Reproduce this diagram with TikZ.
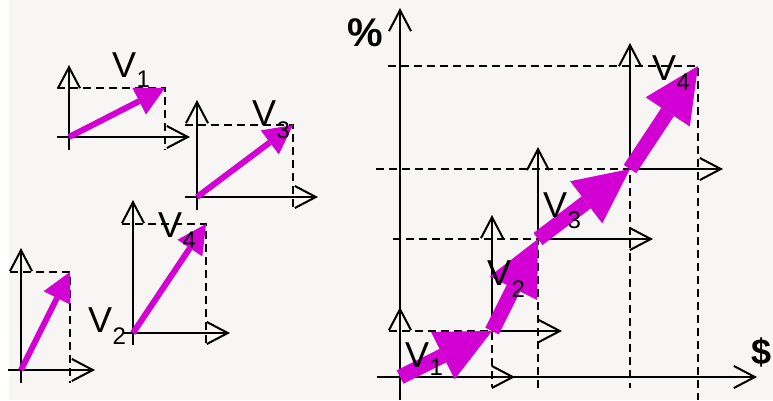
\documentclass[tikz,border=0pt]{standalone}
\usepackage{fontspec}
\setmainfont{Liberation Sans}
\usetikzlibrary{arrows.meta}
\definecolor{mag}{RGB}{210,0,210}
\definecolor{bg}{RGB}{247,246,245}
\begin{document}
\begin{tikzpicture}[x=1pt,y=-1pt,
  axis/.style={line width=2pt,-{Straight Barb[length=21pt,width=22pt]}},
  dline/.style={line width=2pt,dash pattern=on 8pt off 5pt},
  vec/.style={draw=mag,line width=6pt,-{Triangle[length=29pt,width=30pt,line width=0pt]},mag},
  bigvec/.style={draw=mag,line width=15pt,-{Triangle[length=55pt,width=53pt,line width=0pt]},mag},
  vlab/.style={font=\fontsize{36}{40}\selectfont,inner sep=0pt,anchor=base west},
  sublab/.style={font=\fontsize{24}{28}\selectfont,inner sep=0pt,anchor=base west},
  biglab/.style={font=\bfseries\fontsize{40}{44}\selectfont,inner sep=0pt}]
\useasboundingbox (0,0) rectangle (773,400);
\fill[white] (0,0) rectangle (773,400);
\fill[bg] (8.5,0) rectangle (773,400);
% ---------- left box A (V1)
\coordinate (a0) at (69,137);
\coordinate (aT) at (165,88);
\draw[axis] (69,150) -- (69,65);
\draw[axis] (57,137) -- (190,137);
\draw[dline] (57,88) -- (aT) -- (165,150);
\draw[vec] (a0) -- (aT);
% ---------- left box B (V3)
\coordinate (b0) at (197,197);
\coordinate (bT) at (293,125);
\draw[axis] (197,210) -- (197,100);
\draw[axis] (185,197) -- (318,197);
\draw[dline] (185,125) -- (bT) -- (293,210);
\draw[vec] (b0) -- (bT);
% ---------- left box C (V4)
\coordinate (c0) at (133,333);
\coordinate (cT) at (206,224);
\draw[axis] (133,345) -- (133,200);
\draw[axis] (122,333) -- (230,333);
\draw[dline] (122,224) -- (cT) -- (206,346);
\draw[vec] (c0) -- (cT);
% ---------- left box D
\coordinate (d0) at (21,370);
\coordinate (dT) at (70,272);
\draw[axis] (21,383) -- (21,248);
\draw[axis] (8,370) -- (95,370);
\draw[dline] (10,272) -- (dT) -- (70,383);
\draw[vec] (d0) -- (dT);
% ---------- right diagram
\coordinate (r1) at (400,377);
\coordinate (r2) at (492,331);
\coordinate (r3) at (538,239);
\coordinate (r4) at (630,169);
\coordinate (r5) at (698,66);
\draw[axis] (400,400) -- (400,8);
\draw[axis] (377,377) -- (757,377);
\draw[axis] (r1) -- (400,307);
\draw[axis] (r1) -- (515,377);
\draw[dline] (389,331) -- (r2) -- (492,387);
\draw[axis] (r2) -- (492,215);
\draw[axis] (r2) -- (562,331);
\draw[dline] (393,239) -- (r3) -- (538,388);
\draw[axis] (r3) -- (538,147);
\draw[axis] (r3) -- (653,239);
\draw[dline] (376,169) -- (r4) -- (630,388);
\draw[axis] (r4) -- (630,43);
\draw[axis] (r4) -- (723,169);
\draw[dline] (388,66) -- (r5) -- (698,400);
\draw[bigvec] (r1) -- (r2);
\draw[bigvec] (r2) -- (r3);
\draw[bigvec] (r3) -- (r4);
\draw[bigvec] (r4) -- (r5);
% ---------- labels
\node[biglab,anchor=base] (pct) at (365,46.5) {\%};
\node[biglab,font=\bfseries\fontsize{36}{40}\selectfont] (dol) at (761.5,352.5) {\$};
\node[vlab] (lv1) at (112,77) {V};
\node[sublab] (ls1) at ([yshift=-10pt]lv1.base east) {1};
\node[vlab] (lv3) at (252,125) {V};
\node[sublab] (ls3) at ([yshift=-13pt]lv3.base east) {3};
\node[vlab] (lv4) at (158,237) {V};
\node[sublab] (ls4) at ([yshift=-11pt]lv4.base east) {4};
\node[vlab] (lv2) at (88,332) {V};
\node[sublab] (ls2) at ([yshift=-12pt]lv2.base east) {2};
\node[vlab] (rv1) at (405,367) {V};
\node[sublab] (rs1) at ([yshift=-8pt]rv1.base east) {1};
\node[vlab] (rv2) at (487,285) {V};
\node[sublab] (rs2) at ([yshift=-12pt]rv2.base east) {2};
\node[vlab] (rv3) at (543,217) {V};
\node[sublab] (rs3) at ([yshift=-11pt]rv3.base east) {3};
\node[vlab] (rv4) at (652,80) {V};
\node[sublab] (rs4) at ([yshift=-10pt]rv4.base east) {4};
\end{tikzpicture}
\end{document}
